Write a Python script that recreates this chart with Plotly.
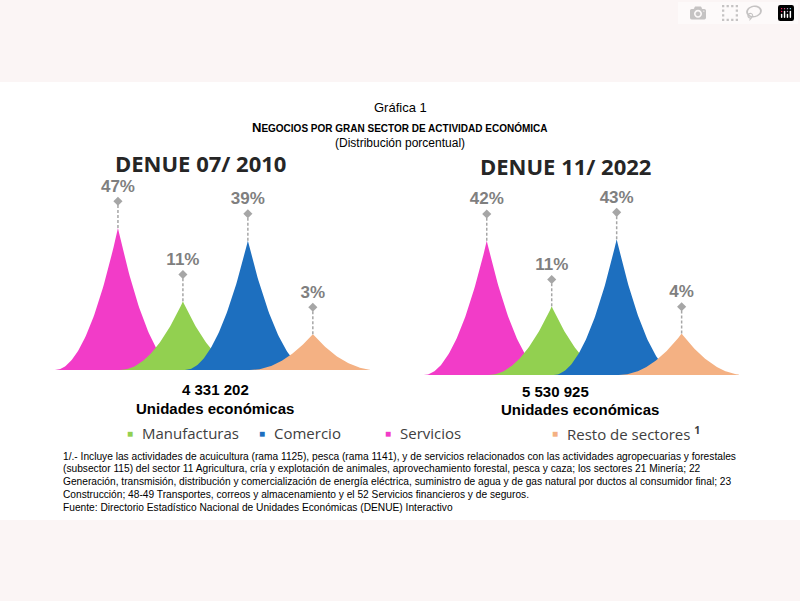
import plotly.graph_objects as go
import numpy as np

categories = ["Servicios", "Manufacturas", "Comercio", "Resto de sectores"]
values_2010 = [47, 11, 39, 3]
values_2022 = [42, 11, 43, 4]
colors = ["#f23cc8", "#92d050", "#1d6fbf", "#f4b183"]
legend_order = ["Manufacturas", "Comercio", "Servicios", "Resto de sectores"]
totals = ["4 331 202", "5 530 925"]
titles = ["DENUE 07/ 2010", "DENUE 11/ 2022"]

fig = go.Figure()

def spike(xc, h, w=0.97, p=2.0, n=60):
    t = np.linspace(0, 1, n)
    xl = xc - w * (1 - t)
    yl = h * t ** p
    xr = xc + w * t
    yr = h * (1 - t) ** p
    return list(xl) + list(xr), list(yl) + list(yr)

for k, (vals, xa, ya) in enumerate([(values_2010, "x", "y"), (values_2022, "x2", "y2")]):
    for i, (c, v) in enumerate(zip(categories, vals)):
        h = np.sqrt(v)
        xs, ys = spike(i, h)
        fig.add_trace(go.Scatter(x=xs, y=ys, fill="toself", fillcolor=colors[i],
                                 line=dict(width=0, color=colors[i]), mode="lines",
                                 xaxis=xa, yaxis=ya, showlegend=False, hoverinfo="skip"))
    for i, v in enumerate(vals):
        h = np.sqrt(v)
        fig.add_trace(go.Scatter(x=[i, i], y=[h, h + 1.3], mode="lines",
                                 line=dict(color="#a6a6a6", width=1.5, dash="3px,2px"),
                                 xaxis=xa, yaxis=ya, showlegend=False, hoverinfo="skip"))
        fig.add_trace(go.Scatter(x=[i], y=[h + 1.3], mode="markers+text",
                                 marker=dict(symbol="diamond", size=7, color="#a6a6a6"),
                                 text=[f"<b>{v}%</b>"], textposition="top center",
                                 textfont=dict(size=17, color="#7f7f7f", family="Liberation Sans, Arial"),
                                 xaxis=xa, yaxis=ya, showlegend=False, hoverinfo="skip"))

ax = dict(range=[-1.2, 3.88], visible=False, fixedrange=True)
fig.update_layout(
    width=800, height=601, margin=dict(l=0, r=0, t=0, b=0),
    paper_bgcolor="white", plot_bgcolor="rgba(0,0,0,0)",
    xaxis=dict(domain=[0.05, 0.4625], **ax),
    xaxis2=dict(domain=[0.511, 0.9235], **ax),
    yaxis=dict(domain=[231/601, 438/601], range=[0, 10], visible=False, fixedrange=True),
    yaxis2=dict(domain=[226/601, 433/601], range=[0, 10], visible=False, fixedrange=True, anchor="x2"),
    font=dict(family="Liberation Sans, Arial", color="#000"),
)

shapes = [
    dict(type="rect", xref="paper", yref="paper", x0=0, x1=1, y0=1 - 82/601, y1=1,
         fillcolor="#fbf5f5", line_width=0, layer="below"),
    dict(type="rect", xref="paper", yref="paper", x0=0, x1=1, y0=0, y1=1 - 520/601,
         fillcolor="#fbf5f5", line_width=0, layer="below"),
]
anns = []
def A(x, y, text, size, bold=False, color="#000", family="Liberation Sans, Arial", xanchor="center"):
    anns.append(dict(xref="paper", yref="paper", x=x/800, y=1 - y/601, text=f"<b>{text}</b>" if bold else text,
                     showarrow=False, xanchor=xanchor, yanchor="middle",
                     font=dict(size=size, color=color, family=family)))

A(400, 107, "Gráfica 1", 13)
A(400, 127, "N<span style='font-size:10px'>EGOCIOS POR GRAN SECTOR DE ACTIVIDAD ECONÓMICA</span>", 13, bold=True)
A(400, 143, "(Distribución porcentual)", 12)
A(200, 163, titles[0], 22, bold=True, color="#262626", family="Open Sans")
A(565, 166, titles[1], 22, bold=True, color="#262626", family="Open Sans")
A(215, 389, totals[0], 15, bold=True)
A(215, 409, "Unidades económicas", 15, bold=True)
A(555, 391, totals[1], 15, bold=True)
A(580, 410, "Unidades económicas", 15, bold=True)
leg_x = [130, 262, 388, 555]
for lx, name in zip(leg_x, legend_order):
    col = colors[categories.index(name)]
    A(lx, 433, "■", 10, color=col, xanchor="center")
    label = name + (" <sup><b>1</b></sup>" if name == "Resto de sectores" else "")
    A(lx + 10, 433, label, 15, color="#404040", family="Open Sans", xanchor="left")

foot = ["1/.- Incluye las actividades de acuicultura (rama 1125), pesca (rama 1141), y de servicios relacionados con las actividades agropecuarias y forestales",
        "(subsector 115) del sector 11 Agricultura, cría y explotación de animales, aprovechamiento forestal, pesca y caza; los sectores 21 Minería; 22",
        "Generación, transmisión, distribución y comercialización de energía eléctrica, suministro de agua y de gas natural por ductos al consumidor final; 23",
        "Construcción; 48-49 Transportes, correos y almacenamiento y el 52 Servicios financieros y de seguros.",
        "Fuente: Directorio Estadístico Nacional de Unidades Económicas (DENUE) Interactivo"]
for j, line in enumerate(foot):
    A(61, 456 + j * 12.8, line, 10.2, xanchor="left")

fig.update_layout(shapes=shapes, annotations=anns)
fig.write_html("out.html")

with open("out.html", encoding="utf-8") as f:
    html = f.read()
html = html.replace("<head>", "<head><style>body{margin:0;padding:0;}</style>", 1)
with open("out.html", "w", encoding="utf-8") as f:
    f.write(html)
